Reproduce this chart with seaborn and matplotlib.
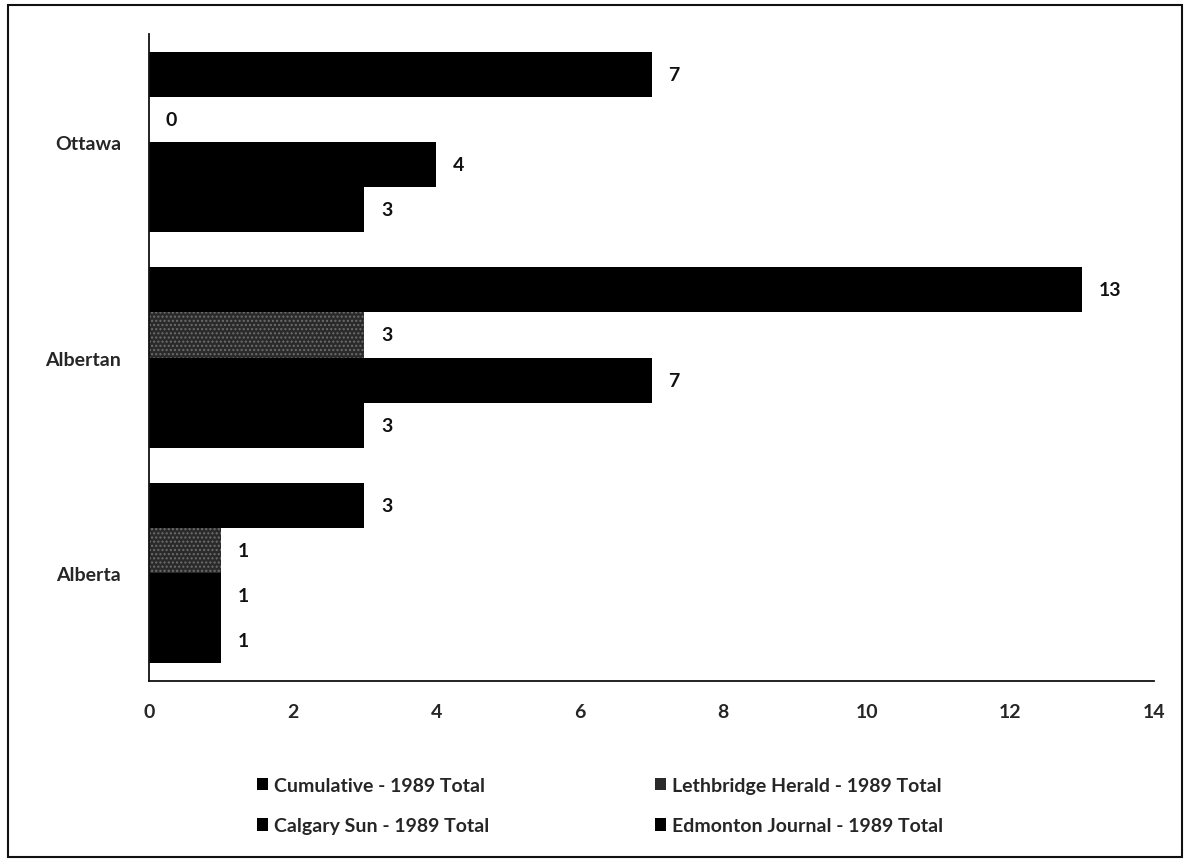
import matplotlib
matplotlib.use("Agg")
import matplotlib.pyplot as plt
from matplotlib.patches import Rectangle
import pandas as pd
import seaborn as sns

# 1989 totals per source, by category
categories = ["Ottawa", "Albertan", "Alberta"]
series_names = [
    "Cumulative - 1989 Total",
    "Lethbridge Herald - 1989 Total",
    "Calgary Sun - 1989 Total",
    "Edmonton Journal - 1989 Total",
]
cumulative = [7, 13, 3]
lethbridge_herald = [0, 3, 1]
calgary_sun = [4, 7, 1]
edmonton_journal = [3, 3, 1]
x_ticks = [0, 2, 4, 6, 8, 10, 12, 14]

values = [cumulative, lethbridge_herald, calgary_sun, edmonton_journal]
df = pd.DataFrame(
    [(cat, name, vals[i]) for name, vals in zip(series_names, values)
     for i, cat in enumerate(categories)],
    columns=["category", "series", "value"],
)

sns.set_theme(style="white")
plt.rcParams["font.family"] = ["Lato", "DejaVu Sans"]

fig = plt.figure(figsize=(11.95, 8.62), dpi=100)
ax = fig.add_axes([0.1247, 0.2088, 0.8410, 0.7506])

palette = {
    series_names[0]: "#000000",
    series_names[1]: "#2a2a2a",
    series_names[2]: "#000000",
    series_names[3]: "#000000",
}

sns.barplot(
    data=df, y="category", x="value", hue="series",
    order=categories, hue_order=series_names, palette=palette,
    orient="h", width=0.835, saturation=1, ax=ax, legend=True,
    linewidth=0,
)

# speckled fill on the Lethbridge Herald bars
for bar in ax.containers[1]:
    bar.set_hatch("....")
    bar.set_edgecolor("#6e6e6e")
    bar.set_linewidth(0)

for cont in ax.containers:
    ax.bar_label(cont, fmt="%d", padding=12, fontsize=14, fontweight="bold",
                 color="#111111")

ax.set_xlim(0, 14)
ax.set_xticks(x_ticks)
ax.set_xticklabels([str(t) for t in x_ticks], fontsize=14, fontweight="bold")
ax.tick_params(axis="x", length=0, pad=16)
ax.tick_params(axis="y", length=0, pad=20, labelsize=14)
for lbl in ax.get_yticklabels():
    lbl.set_fontweight("bold")
ax.set_xlabel("")
ax.set_ylabel("")

for side in ("top", "right"):
    ax.spines[side].set_visible(False)
for side in ("left", "bottom"):
    ax.spines[side].set_color("#111111")
    ax.spines[side].set_linewidth(1.3)

# legend laid out row by row: Cumulative | Lethbridge, Calgary Sun | Edmonton
handles, labels = ax.get_legend_handles_labels()
ax.legend_.remove()
order = [0, 2, 1, 3]
fig.legend(
    [handles[i] for i in order], [labels[i] for i in order],
    loc="center", bbox_to_anchor=(0.502, 0.064), ncol=2,
    frameon=False, handlelength=0.6, handleheight=0.6,
    handletextpad=0.3, columnspacing=8.5, labelspacing=1.2,
    prop={"weight": "bold", "size": 14},
)

# outer chart border
fig.add_artist(Rectangle((0.007, 0.005), 0.982, 0.988, transform=fig.transFigure,
                         fill=False, edgecolor="#111111", linewidth=1.5))

fig.savefig("out.png", dpi=100)
